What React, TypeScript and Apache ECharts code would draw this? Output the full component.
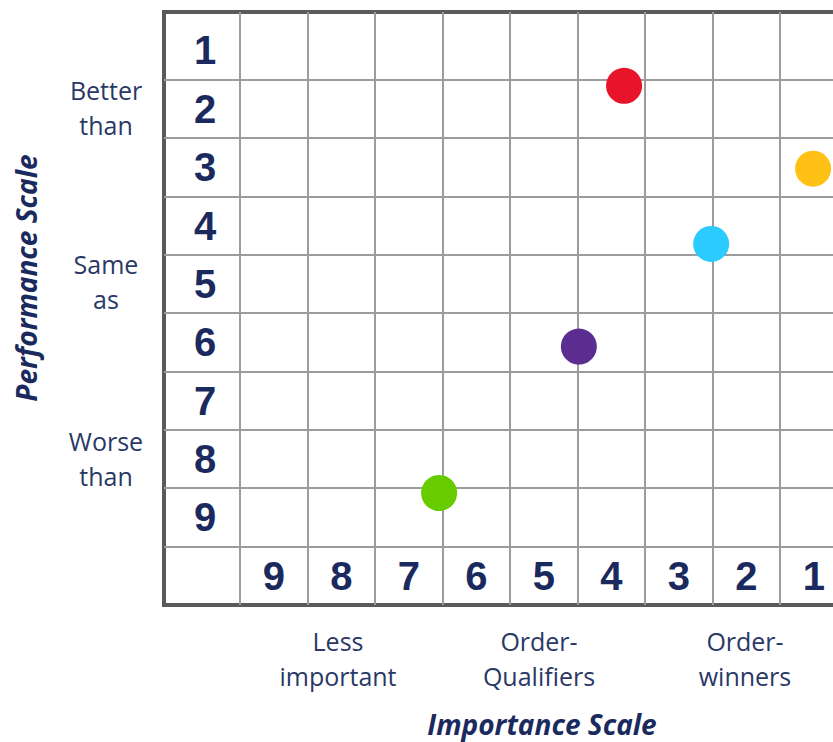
import React, { useEffect, useRef } from "react";
import * as echarts from "echarts";

// Importance (x) and performance (y) readings for each factor
const importance = [3.81, 1.01, 2.52, 4.48, 6.55];
const performance = [1.6, 3.02, 4.31, 6.07, 8.58];
const dotColors = ["#e8142a", "#ffc116", "#2ccbff", "#5b2d90", "#66cc00"];

// Tick labels
const importanceTicks = ["1", "2", "3", "4", "5", "6", "7", "8", "9"];
const performanceTicks = ["1", "2", "3", "4", "5", "6", "7", "8", "9"];

// Descriptive bands
const performanceBands = ["Better\nthan", "Same\nas", "Worse\nthan"];
const importanceBands = ["Less\nimportant", "Order-\nQualifiers", "Order-\nwinners"];

const GRID_LINE = "#9c9c9c";
const BORDER = "#5a5a5a";
const NAVY = "#1b2a5e";
const TEXT = "#2a3866";

const CHART_W = 852;
const CHART_H = 742;

export default function App() {
  const ref = useRef<HTMLDivElement>(null);

  useEffect(() => {
    if (!ref.current) return;
    const chart = echarts.init(ref.current, undefined, { renderer: "svg" });

    // x axis ticks: 0.5, 1.0, ... 10.5, extent -> lines only at 1.5..9.5
    const xLineColors: string[] = [];
    for (let i = 0; i < 22; i++) {
      xLineColors.push(i % 2 === 0 && i >= 2 && i <= 18 ? GRID_LINE : "rgba(0,0,0,0)");
    }
    // y boundary axis ticks: 0, 0.5, ... 10, extent -> lines only at 1..9
    const yLineColors: string[] = [];
    for (let i = 0; i < 22; i++) {
      yLineColors.push(i % 2 === 0 && i >= 2 && i <= 18 ? GRID_LINE : "rgba(0,0,0,0)");
    }

    const bandFont = {
      fontSize: 25,
      fontFamily: "Open Sans",
      fill: TEXT,
      align: "center",
      verticalAlign: "middle",
      lineHeight: 35,
    };

    const option: any = {
      animation: false,
      grid: {
        left: 164,
        right: CHART_W - 847.5,
        top: 12,
        bottom: 137,
        show: true,
        borderColor: BORDER,
        borderWidth: 4,
        backgroundColor: "#ffffff",
      },
      xAxis: [
        {
          type: "value",
          inverse: true,
          min: 0.5,
          max: 10.626,
          interval: 0.5,
          axisLine: { show: false },
          axisTick: { show: false },
          splitLine: { show: true, lineStyle: { color: xLineColors, width: 2 } },
          axisLabel: {
            inside: true,
            margin: 29,
            verticalAlign: "middle",
            align: "center",
            fontSize: 40,
            fontWeight: "bold",
            fontFamily: "Liberation Sans",
            color: NAVY,
            formatter: (v: number) => {
              const r = Math.round(v);
              if (Math.abs(v - r) > 0.01 || r < 1 || r > 9) return "";
              return importanceTicks[r - 1];
            },
          },
        },
      ],
      yAxis: [
        {
          type: "value",
          show: false,
          position: "left",
          inverse: true,
          min: 0.335,
          max: 10.5,
        },
        {
          type: "value",
          position: "left",
          offset: 0,
          min: 0,
          max: 10.158,
          interval: 0.5,
          axisLine: { show: false },
          axisTick: { show: false },
          splitLine: { show: true, lineStyle: { color: yLineColors, width: 2 } },
          axisLabel: {
            inside: true,
            margin: 41,
            align: "center",
            verticalAlign: "middle",
            fontSize: 40,
            fontWeight: "bold",
            fontFamily: "Liberation Sans",
            color: NAVY,
            formatter: (v: number) => {
              const row = 10.5 - v;
              const r = Math.round(row);
              if (Math.abs(row - r) > 0.01 || r < 1 || r > 9) return "";
              return performanceTicks[r - 1];
            },
          },
        },
      ],
      series: [
        {
          type: "scatter",
          xAxisIndex: 0,
          yAxisIndex: 0,
          symbol: "circle",
          symbolSize: 36,
          z: 5,
          itemStyle: { opacity: 1 },
          data: importance.map((x, i) => ({
            value: [x, performance[i]],
            itemStyle: { color: dotColors[i], opacity: 1 },
          })),
        },
      ],
      graphic: [
        {
          type: "text",
          x: 26,
          y: 278,
          rotation: Math.PI / 2,
          style: {
            text: "Performance Scale",
            fontSize: 28,
            fontWeight: "bold",
            fontStyle: "italic",
            fontFamily: "Open Sans",
            fill: NAVY,
            align: "center",
            verticalAlign: "middle",
          },
        },
        {
          type: "text",
          x: 542,
          y: 724,
          style: {
            text: "Importance Scale",
            fontSize: 28,
            fontWeight: "bold",
            fontStyle: "italic",
            fontFamily: "Open Sans",
            fill: NAVY,
            align: "center",
            verticalAlign: "middle",
          },
        },
        { type: "text", x: 106, y: 107, style: { ...bandFont, text: performanceBands[0] } },
        { type: "text", x: 106, y: 281, style: { ...bandFont, text: performanceBands[1] } },
        { type: "text", x: 106, y: 458, style: { ...bandFont, text: performanceBands[2] } },
        { type: "text", x: 338, y: 658, style: { ...bandFont, text: importanceBands[0] } },
        { type: "text", x: 539, y: 658, style: { ...bandFont, text: importanceBands[1] } },
        { type: "text", x: 745, y: 658, style: { ...bandFont, text: importanceBands[2] } },
      ],
    };

    chart.setOption(option);
    return () => chart.dispose();
  }, []);

  return (
    <div
      style={{
        position: "absolute",
        left: 0,
        top: 0,
        width: 833,
        height: CHART_H,
        overflow: "hidden",
        background: "#ffffff",
      }}
    >
      <div ref={ref} style={{ width: CHART_W, height: CHART_H }} />
    </div>
  );
}
